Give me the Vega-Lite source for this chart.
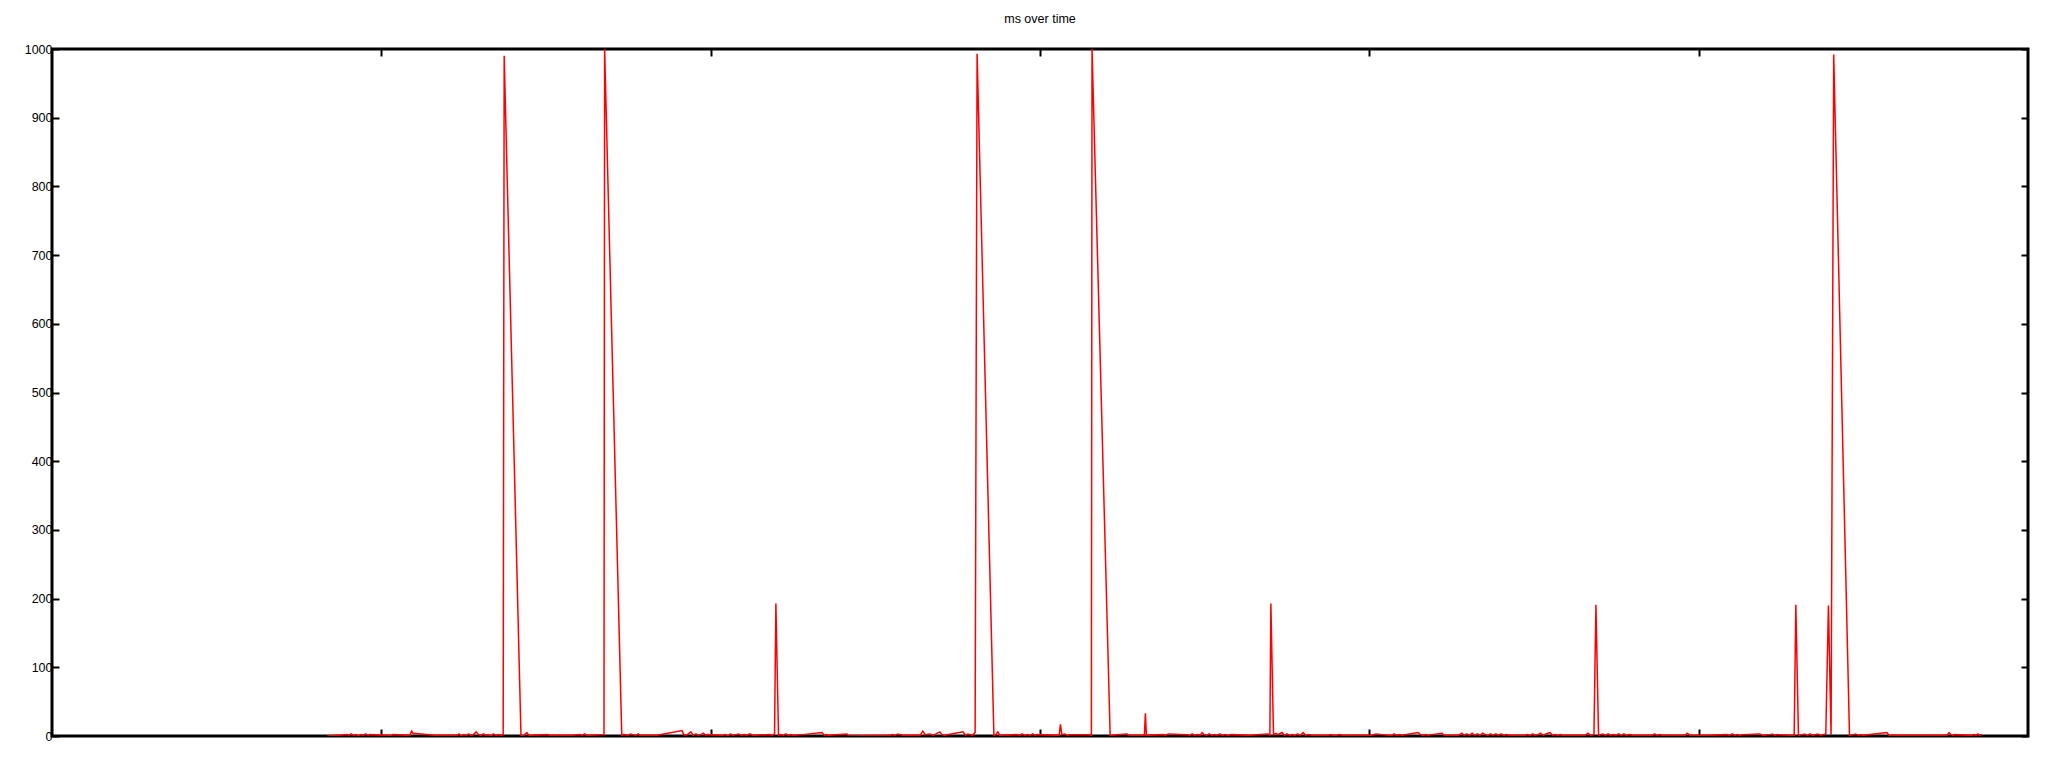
{
  "$schema": "https://vega.github.io/schema/vega-lite/v6.json",
  "autosize": {"type": "none"},
  "padding": {"left": 52, "top": 49, "right": 20, "bottom": 32},
  "width": 1976,
  "height": 687,
  "title": {"text": "ms over time", "font": "Liberation Sans", "fontSize": 12.5, "fontWeight": "normal", "color": "#000", "offset": 18},
  "config": {
    "view": {"stroke": "#000", "strokeWidth": 3},
    "axis": {"grid": false, "domain": false, "tickColor": "#000", "tickWidth": 2, "labelFont": "Liberation Sans", "labelFontSize": 12.5, "labelColor": "#000", "title": null}
  },
  "data": {"values": [
    {"t": 83.7, "ms": 1}, {"t": 84.0, "ms": 0},
    {"t": 89.6, "ms": 2}, {"t": 90.2, "ms": 1}, {"t": 90.8, "ms": 3}, {"t": 91.5, "ms": 1}, {"t": 92.3, "ms": 2}, {"t": 93.0, "ms": 0}, {"t": 93.8, "ms": 2}, {"t": 94.5, "ms": 1}, {"t": 95.2, "ms": 3}, {"t": 96.0, "ms": 1}, {"t": 96.6, "ms": 2},
    {"t": 102.0, "ms": 1}, {"t": 102.6, "ms": 0}, {"t": 103.5, "ms": 2},
    {"t": 108.7, "ms": 1}, {"t": 109.2, "ms": 7}, {"t": 109.6, "ms": 4}, {"t": 116.3, "ms": 1},
    {"t": 123.0, "ms": 1}, {"t": 123.6, "ms": 3}, {"t": 124.3, "ms": 0}, {"t": 125.0, "ms": 2}, {"t": 125.8, "ms": 1}, {"t": 126.5, "ms": 3}, {"t": 127.2, "ms": 1}, {"t": 128.0, "ms": 2}, {"t": 128.8, "ms": 6}, {"t": 129.5, "ms": 2}, {"t": 130.2, "ms": 1}, {"t": 131.0, "ms": 3}, {"t": 131.8, "ms": 1}, {"t": 132.5, "ms": 2}, {"t": 133.3, "ms": 0}, {"t": 134.0, "ms": 3}, {"t": 134.8, "ms": 1}, {"t": 135.5, "ms": 2}, {"t": 136.4, "ms": 1}, {"t": 137.0, "ms": 2},
    {"t": 137.3, "ms": 990},
    {"t": 142.4, "ms": 1}, {"t": 143.0, "ms": 0}, {"t": 144.2, "ms": 5}, {"t": 144.8, "ms": 1},
    {"t": 150.3, "ms": 2}, {"t": 151.2, "ms": 1},
    {"t": 157.3, "ms": 1}, {"t": 160.3, "ms": 2}, {"t": 161.0, "ms": 1}, {"t": 161.7, "ms": 3}, {"t": 162.4, "ms": 1},
    {"t": 167.6, "ms": 2}, {"t": 167.8, "ms": 1000},
    {"t": 173.0, "ms": 1}, {"t": 173.6, "ms": 2}, {"t": 174.9, "ms": 1}, {"t": 175.6, "ms": 3}, {"t": 176.4, "ms": 2}, {"t": 177.2, "ms": 1}, {"t": 178.0, "ms": 3}, {"t": 178.5, "ms": 1},
    {"t": 183.7, "ms": 1}, {"t": 191.3, "ms": 8}, {"t": 191.8, "ms": 2}, {"t": 192.5, "ms": 1}, {"t": 193.2, "ms": 3}, {"t": 194.0, "ms": 6}, {"t": 194.7, "ms": 1}, {"t": 195.5, "ms": 3}, {"t": 196.3, "ms": 1}, {"t": 197.0, "ms": 2}, {"t": 197.8, "ms": 4}, {"t": 198.5, "ms": 1}, {"t": 198.9, "ms": 2},
    {"t": 203.7, "ms": 1}, {"t": 204.4, "ms": 2}, {"t": 205.2, "ms": 0}, {"t": 206.0, "ms": 3}, {"t": 206.8, "ms": 1}, {"t": 207.6, "ms": 2}, {"t": 208.5, "ms": 3}, {"t": 209.3, "ms": 1}, {"t": 210.2, "ms": 2}, {"t": 211.0, "ms": 1}, {"t": 211.8, "ms": 3}, {"t": 212.9, "ms": 1},
    {"t": 218.0, "ms": 2}, {"t": 218.7, "ms": 1}, {"t": 219.4, "ms": 3}, {"t": 219.8, "ms": 193}, {"t": 220.6, "ms": 1}, {"t": 221.3, "ms": 2}, {"t": 222.0, "ms": 1}, {"t": 222.8, "ms": 3}, {"t": 223.6, "ms": 1}, {"t": 224.3, "ms": 2}, {"t": 225.0, "ms": 1},
    {"t": 228.0, "ms": 2}, {"t": 233.8, "ms": 5}, {"t": 234.5, "ms": 1}, {"t": 235.2, "ms": 2}, {"t": 235.6, "ms": 1},
    {"t": 241.4, "ms": 3}, {"t": 241.9, "ms": 0},
    {"t": 254.4, "ms": 1}, {"t": 255.2, "ms": 2}, {"t": 256.0, "ms": 1}, {"t": 256.8, "ms": 3}, {"t": 257.6, "ms": 2}, {"t": 258.4, "ms": 1},
    {"t": 263.6, "ms": 1}, {"t": 264.4, "ms": 7}, {"t": 265.1, "ms": 2}, {"t": 266.6, "ms": 3}, {"t": 267.5, "ms": 1}, {"t": 269.6, "ms": 6}, {"t": 270.2, "ms": 2}, {"t": 271.0, "ms": 1},
    {"t": 276.6, "ms": 6}, {"t": 277.4, "ms": 1}, {"t": 278.1, "ms": 3}, {"t": 278.8, "ms": 2}, {"t": 279.5, "ms": 1}, {"t": 280.3, "ms": 5}, {"t": 280.9, "ms": 993},
    {"t": 286.0, "ms": 1}, {"t": 286.6, "ms": 2}, {"t": 287.2, "ms": 6}, {"t": 287.8, "ms": 1},
    {"t": 293.0, "ms": 2}, {"t": 293.8, "ms": 1}, {"t": 294.6, "ms": 3}, {"t": 295.4, "ms": 1}, {"t": 296.2, "ms": 2}, {"t": 297.0, "ms": 1}, {"t": 297.8, "ms": 3}, {"t": 298.5, "ms": 1}, {"t": 299.1, "ms": 2},
    {"t": 305.8, "ms": 1}, {"t": 306.2, "ms": 17}, {"t": 306.6, "ms": 2}, {"t": 307.6, "ms": 3}, {"t": 308.4, "ms": 1}, {"t": 309.1, "ms": 2},
    {"t": 314.6, "ms": 2}, {"t": 315.6, "ms": 1}, {"t": 315.8, "ms": 1000}, {"t": 321.3, "ms": 1},
    {"t": 326.4, "ms": 3}, {"t": 327.0, "ms": 1},
    {"t": 331.7, "ms": 1}, {"t": 332.0, "ms": 33}, {"t": 332.3, "ms": 1},
    {"t": 337.3, "ms": 2}, {"t": 338.1, "ms": 1}, {"t": 338.9, "ms": 3},
    {"t": 344.6, "ms": 2}, {"t": 345.4, "ms": 1}, {"t": 346.2, "ms": 3}, {"t": 347.0, "ms": 1}, {"t": 347.8, "ms": 2}, {"t": 348.6, "ms": 1},
    {"t": 349.2, "ms": 5}, {"t": 349.8, "ms": 2}, {"t": 350.6, "ms": 1}, {"t": 351.4, "ms": 3}, {"t": 352.2, "ms": 1}, {"t": 353.0, "ms": 2}, {"t": 353.8, "ms": 1}, {"t": 354.6, "ms": 3}, {"t": 355.4, "ms": 1}, {"t": 356.2, "ms": 2}, {"t": 357.0, "ms": 1}, {"t": 358.3, "ms": 2},
    {"t": 363.5, "ms": 1},
    {"t": 369.2, "ms": 3}, {"t": 369.8, "ms": 1}, {"t": 370.1, "ms": 193}, {"t": 370.9, "ms": 2}, {"t": 371.6, "ms": 4}, {"t": 372.3, "ms": 2}, {"t": 373.5, "ms": 5}, {"t": 374.2, "ms": 1}, {"t": 375.0, "ms": 3}, {"t": 375.8, "ms": 1}, {"t": 376.6, "ms": 2}, {"t": 377.4, "ms": 1}, {"t": 378.2, "ms": 3}, {"t": 379.0, "ms": 1}, {"t": 379.9, "ms": 5}, {"t": 380.6, "ms": 1}, {"t": 381.4, "ms": 2}, {"t": 382.9, "ms": 1},
    {"t": 387.4, "ms": 1}, {"t": 388.2, "ms": 2}, {"t": 389.0, "ms": 1}, {"t": 390.0, "ms": 1}, {"t": 391.0, "ms": 2}, {"t": 392.0, "ms": 1}, {"t": 393.2, "ms": 1},
    {"t": 400.8, "ms": 1}, {"t": 402.0, "ms": 3}, {"t": 404.0, "ms": 2}, {"t": 406.0, "ms": 1}, {"t": 406.9, "ms": 1}, {"t": 407.5, "ms": 3}, {"t": 408.3, "ms": 1}, {"t": 409.2, "ms": 2}, {"t": 409.9, "ms": 1},
    {"t": 414.8, "ms": 5}, {"t": 415.5, "ms": 2}, {"t": 416.3, "ms": 1}, {"t": 417.2, "ms": 2}, {"t": 418.0, "ms": 1}, {"t": 418.8, "ms": 2},
    {"t": 422.1, "ms": 4}, {"t": 422.7, "ms": 1}, {"t": 427.0, "ms": 1},
    {"t": 428.1, "ms": 4}, {"t": 428.8, "ms": 1}, {"t": 429.6, "ms": 3}, {"t": 430.4, "ms": 1}, {"t": 431.2, "ms": 4}, {"t": 432.0, "ms": 1}, {"t": 432.8, "ms": 3}, {"t": 433.6, "ms": 1}, {"t": 434.4, "ms": 4}, {"t": 435.2, "ms": 2}, {"t": 436.0, "ms": 1}, {"t": 436.8, "ms": 3}, {"t": 437.6, "ms": 1}, {"t": 438.4, "ms": 3}, {"t": 439.2, "ms": 1}, {"t": 440.0, "ms": 3}, {"t": 440.8, "ms": 1}, {"t": 441.6, "ms": 2}, {"t": 442.7, "ms": 1},
    {"t": 447.3, "ms": 1}, {"t": 448.0, "ms": 2}, {"t": 448.8, "ms": 1}, {"t": 449.6, "ms": 3}, {"t": 450.4, "ms": 1}, {"t": 451.2, "ms": 2}, {"t": 452.0, "ms": 4}, {"t": 452.8, "ms": 1}, {"t": 453.6, "ms": 3}, {"t": 454.9, "ms": 5}, {"t": 455.6, "ms": 1}, {"t": 456.4, "ms": 2}, {"t": 457.2, "ms": 1}, {"t": 458.0, "ms": 2}, {"t": 458.8, "ms": 1}, {"t": 460.0, "ms": 1},
    {"t": 465.5, "ms": 1}, {"t": 466.4, "ms": 4}, {"t": 467.2, "ms": 1}, {"t": 468.2, "ms": 2}, {"t": 468.8, "ms": 191}, {"t": 469.6, "ms": 1}, {"t": 470.9, "ms": 3}, {"t": 471.7, "ms": 1}, {"t": 472.5, "ms": 3}, {"t": 473.3, "ms": 1}, {"t": 474.1, "ms": 2}, {"t": 474.9, "ms": 1}, {"t": 475.7, "ms": 3}, {"t": 476.5, "ms": 1}, {"t": 477.3, "ms": 3}, {"t": 478.1, "ms": 1}, {"t": 478.9, "ms": 2}, {"t": 480.1, "ms": 1},
    {"t": 485.8, "ms": 1}, {"t": 486.6, "ms": 3}, {"t": 487.4, "ms": 1}, {"t": 488.2, "ms": 2}, {"t": 488.9, "ms": 1},
    {"t": 495.9, "ms": 1}, {"t": 496.5, "ms": 4}, {"t": 497.4, "ms": 1},
    {"t": 502.5, "ms": 1}, {"t": 508.6, "ms": 2}, {"t": 509.4, "ms": 1}, {"t": 510.2, "ms": 3}, {"t": 511.0, "ms": 1}, {"t": 511.8, "ms": 2}, {"t": 512.5, "ms": 1}, {"t": 513.2, "ms": 2},
    {"t": 518.6, "ms": 3}, {"t": 519.5, "ms": 1},
    {"t": 521.7, "ms": 2}, {"t": 522.4, "ms": 3}, {"t": 523.1, "ms": 1}, {"t": 523.8, "ms": 2},
    {"t": 529.0, "ms": 1}, {"t": 529.5, "ms": 191}, {"t": 530.3, "ms": 1}, {"t": 531.4, "ms": 2}, {"t": 532.2, "ms": 3}, {"t": 533.0, "ms": 1}, {"t": 533.8, "ms": 3}, {"t": 534.6, "ms": 1}, {"t": 535.4, "ms": 2}, {"t": 536.2, "ms": 3}, {"t": 537.0, "ms": 1}, {"t": 537.8, "ms": 2}, {"t": 538.6, "ms": 3}, {"t": 539.4, "ms": 190}, {"t": 540.2, "ms": 2}, {"t": 541.0, "ms": 992}, {"t": 545.8, "ms": 1}, {"t": 546.9, "ms": 2}, {"t": 547.7, "ms": 3}, {"t": 548.5, "ms": 1}, {"t": 549.3, "ms": 2}, {"t": 549.9, "ms": 1},
    {"t": 557.2, "ms": 5}, {"t": 557.8, "ms": 1},
    {"t": 562.6, "ms": 1},
    {"t": 575.4, "ms": 1}, {"t": 576.0, "ms": 5}, {"t": 576.6, "ms": 2}, {"t": 577.2, "ms": 1}, {"t": 577.8, "ms": 2},
    {"t": 583.0, "ms": 1}, {"t": 583.6, "ms": 2}, {"t": 584.2, "ms": 1}, {"t": 584.8, "ms": 3}, {"t": 585.4, "ms": 1}, {"t": 586.0, "ms": 2}
  ]},
  "layer": [
    {
      "mark": {"type": "line", "color": "#ff0000", "strokeWidth": 1.5, "clip": true},
      "encoding": {
        "x": {"field": "t", "type": "quantitative", "scale": {"domain": [0, 600], "nice": false, "zero": false},
              "axis": {"orient": "bottom", "values": [100, 200, 300, 400, 500], "labels": false, "tickSize": -7}},
        "y": {"field": "ms", "type": "quantitative", "scale": {"domain": [0, 1000], "nice": false},
              "axis": {"orient": "left", "values": [0, 100, 200, 300, 400, 500, 600, 700, 800, 900, 1000], "format": "d", "tickSize": -7, "labelPadding": 7}}
      }
    },
    {
      "mark": {"type": "line", "strokeOpacity": 0, "clip": true},
      "encoding": {
        "x": {"field": "t", "type": "quantitative",
              "axis": {"orient": "top", "values": [100, 200, 300, 400, 500], "labels": false, "tickSize": -7}},
        "y": {"field": "ms", "type": "quantitative",
              "axis": {"orient": "right", "values": [0, 100, 200, 300, 400, 500, 600, 700, 800, 900, 1000], "labels": false, "tickSize": -7}}
      }
    }
  ],
  "resolve": {"axis": {"x": "independent", "y": "independent"}}
}
